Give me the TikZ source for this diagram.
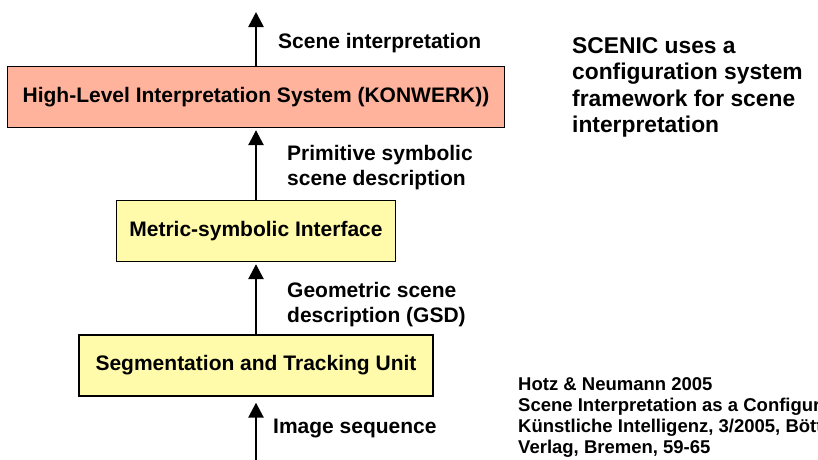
\documentclass[tikz,border=0pt]{standalone}
\usepackage{fontspec}
\setmainfont{Liberation Sans}
\usetikzlibrary{arrows.meta}

\definecolor{konwerkred}{HTML}{FFB39C}
\definecolor{unityellow}{HTML}{FFFBAA}

\tikzset{
  unitbox/.style={draw, line width=1.3pt, minimum height=61pt, inner sep=0pt,
    font=\bfseries\fontsize{21}{25}\selectfont},
  flow/.style={line width=2.6pt, -{Triangle[width=15pt,length=15pt]}, shorten >=2pt},
  flowlabel/.style={anchor=base west, align=left, inner sep=0pt,
    font=\bfseries\fontsize{21}{25}\selectfont},
}

\begin{document}
\begin{tikzpicture}[x=1pt,y=-1pt]
        \useasboundingbox (0,0) rectangle (818,459);

        \node [unitbox, fill=konwerkred, minimum width=497pt] (hlis) at (256,97) {High-Level Interpretation System (KONWERK))};
        \node [unitbox, fill=unityellow, minimum width=279pt] (msi) at (256,231) {Metric-symbolic Interface};
        \node [unitbox, fill=unityellow, minimum width=354pt] (stu) at (256,365.5) {Segmentation and Tracking Unit};

        \coordinate (top) at (256,10);
        \coordinate (bottom) at (256,462);

        \draw [flow] (hlis.north) -- (top);
        \draw [flow] (msi.north) -- (hlis.south);
        \draw [flow] (stu.north) -- (msi.south);
        \draw [flow, shorten >=6pt] (bottom) -- (stu.south);

        % base anchor sits on the last line
        \node [flowlabel] (interp) at (278,48) {Scene interpretation};
        \node [flowlabel] (psd) at (287,185) {Primitive symbolic\\scene description};
        \node [flowlabel] (gsd) at (287,322) {Geometric scene\\description (GSD)};
        \node [flowlabel] (imgseq) at (273,433) {Image sequence};

        \node [anchor=base west, align=left, inner sep=0pt,
          font=\bfseries\fontsize{22.8}{26.5}\selectfont] (scenic) at (572,132.5)
          {SCENIC uses a\\configuration system\\framework for scene\\interpretation};
        \node [anchor=base west, align=left, inner sep=0pt,
          font=\bfseries\fontsize{18.5}{21}\selectfont] (cite) at (518,453)
          {Hotz \& Neumann 2005\\Scene Interpretation as a Configuration Process\\K\"unstliche Intelligenz, 3/2005, B\"ottcherIT\\Verlag, Bremen, 59-65};
\end{tikzpicture}
\end{document}
